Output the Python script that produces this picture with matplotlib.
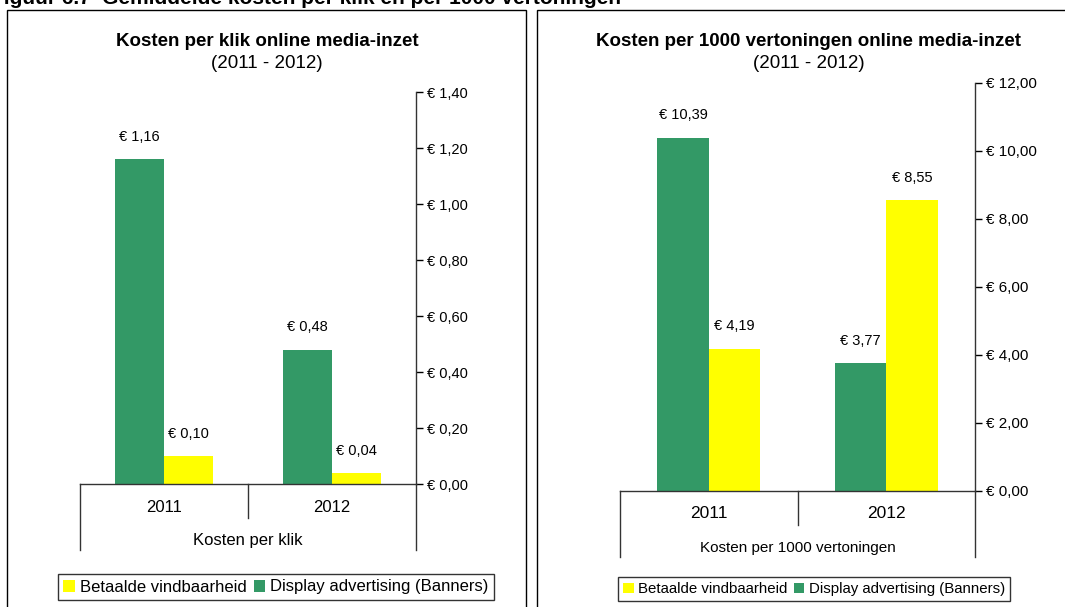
import matplotlib
matplotlib.use("Agg")
import matplotlib.pyplot as plt
from matplotlib.patches import Rectangle, Patch

plt.rcParams['font.family'] = ['Liberation Sans', 'DejaVu Sans']

W, H = 1065, 607

# data
years = ['2011', '2012']
klik_display = [1.16, 0.48]
klik_betaald = [0.10, 0.04]
vert_display = [10.39, 3.77]
vert_betaald = [4.19, 8.55]

series_names = ['Betaalde vindbaarheid', 'Display advertising (Banners)']
GREEN = '#339966'
YELLOW = '#FFFF00'


def fx(px):
    return px / W


def fy(py):
    return 1 - py / H


def euro(v):
    return ('€ %.2f' % v).replace('.', ',')


def draw_panel(fig, box, ymax, ystep, green, yellow, xlabel, title, cx, legend_xy, fs):
    x0, x1, ybase, ytop = box
    ax = fig.add_axes([fx(x0), fy(ybase), (x1 - x0) / W, (ybase - ytop) / H])
    hpx = ybase - ytop

    w = 0.29
    xs = list(range(len(years)))
    ax.bar([x - w / 2 for x in xs], green, width=w, color=GREEN, linewidth=0)
    ax.bar([x + w / 2 for x in xs], yellow, width=w, color=YELLOW, linewidth=0)

    for i in xs:
        ax.annotate(euro(green[i]), (i - w / 2, green[i]), xytext=(0, 11),
                    textcoords='offset points', ha='center', va='bottom',
                    fontsize=fs['value'])
        ax.annotate(euro(yellow[i]), (i + w / 2, yellow[i]), xytext=(0, 11),
                    textcoords='offset points', ha='center', va='bottom',
                    fontsize=fs['value'])

    ax.set_xlim(-0.5, len(years) - 0.5)
    ax.set_ylim(0, ymax)
    ticks = [ystep * k for k in range(int(round(ymax / ystep)) + 1)]
    ax.set_yticks(ticks)
    ax.set_yticklabels([euro(t) for t in ticks])
    ax.yaxis.tick_right()
    ax.tick_params(axis='y', direction='out', length=5, width=1,
                   labelsize=fs['tick'], pad=3, colors='black')
    ax.set_xticks([])

    for s in ['left', 'top']:
        ax.spines[s].set_visible(False)
    for s in ['right', 'bottom']:
        ax.spines[s].set_color('#333333')
        ax.spines[s].set_linewidth(1)

    # category separators below the baseline
    outer = -66 / hpx
    mid = -34 / hpx
    for xa, yb in [(0, outer), (0.5, mid), (1, outer)]:
        ax.plot([xa, xa], [0, yb], transform=ax.transAxes, color='#333333',
                lw=1, clip_on=False)

    for i, yr in enumerate(years):
        ax.text(i, -23 / hpx, yr, transform=ax.get_xaxis_transform(),
                ha='center', va='center', fontsize=fs['year'])
    ax.text(0.5, -57 / hpx, xlabel, transform=ax.transAxes,
            ha='center', va='center', fontsize=fs['xlabel'])

    fig.text(fx(cx), fy(41), title, ha='center', va='center', fontsize=13.5,
             fontweight='bold')
    fig.text(fx(cx), fy(64), '(2011 - 2012)', ha='center', va='center', fontsize=13.5)

    handles = [Patch(facecolor=YELLOW, edgecolor='none'),
               Patch(facecolor=GREEN, edgecolor='none')]
    leg = fig.legend(handles, series_names, loc='center',
                     bbox_to_anchor=(fx(legend_xy[0]), fy(legend_xy[1])),
                     ncol=2, frameon=True, fancybox=False, edgecolor='black',
                     handlelength=0.7, handleheight=0.7, handletextpad=0.3,
                     columnspacing=0.4, borderpad=0.35, borderaxespad=0,
                     fontsize=fs['legend'])
    leg.get_frame().set_linewidth(1)
    return ax


def _main():
    fig = plt.figure(figsize=(W / 100, H / 100), dpi=100)

    fig.add_artist(Rectangle((fx(7), fy(640)), (526 - 7) / W, 630 / H,
                             transform=fig.transFigure, fill=False,
                             edgecolor='black', lw=1))
    fig.add_artist(Rectangle((fx(537), fy(640)), 600 / W, 630 / H,
                             transform=fig.transFigure, fill=False,
                             edgecolor='black', lw=1))

    fig.text(fx(-9), fy(3.5), 'Figuur 6.7  Gemiddelde kosten per klik en per 1000 vertoningen',
             ha='left', va='baseline', fontsize=15, fontweight='bold')

    fs_left = {'value': 10.5, 'tick': 10.5, 'year': 12, 'xlabel': 12, 'legend': 12}
    fs_right = {'value': 10.5, 'tick': 11, 'year': 12.5, 'xlabel': 11, 'legend': 10.8}

    draw_panel(fig, (80, 416, 484, 92), 1.40, 0.20, klik_display, klik_betaald,
               'Kosten per klik', 'Kosten per klik online media-inzet', 267,
               (276, 587), fs_left)
    draw_panel(fig, (620, 975, 491, 83), 12.0, 2.0, vert_display, vert_betaald,
               'Kosten per 1000 vertoningen',
               'Kosten per 1000 vertoningen online media-inzet', 809,
               (814, 589), fs_right)

    fig.savefig('out.png', dpi=100)


if __name__ == "__main__":
    _main()
